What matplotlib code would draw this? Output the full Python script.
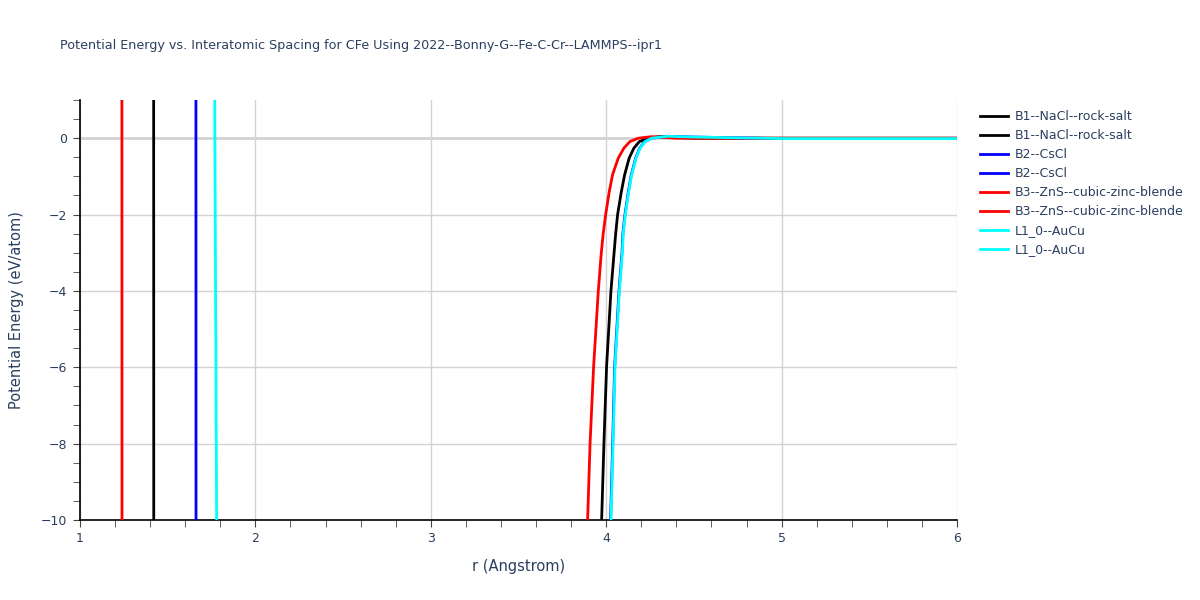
import matplotlib
matplotlib.use('Agg')
import matplotlib.pyplot as plt
from matplotlib.ticker import MultipleLocator

txt = '#2a3f5f'

# ---- data ----
# short wall branch (drops straight through the view window)
b1_r_left = [1.419, 1.421]
b1_e_left = [20.0, -20.0]
b2_r_left = [1.660, 1.662]
b2_e_left = [20.0, -20.0]
b3_r_left = [1.238, 1.240]
b3_e_left = [20.0, -20.0]
l10_r_left = [1.765, 1.768, 1.779, 1.781]
l10_e_left = [5.0, 1.0, -10.0, -12.0]

# main branch
e_levels = [-10.0, -8.0, -6.0, -4.0, -3.0, -2.5, -2.0, -1.41, -0.96, -0.52, -0.26, -0.09, 0.0]

b1_r = [3.974, 3.987, 4.002, 4.027, 4.045, 4.054, 4.065, 4.086, 4.105, 4.131, 4.158, 4.189, 4.24,
        4.30, 4.50, 5.0, 6.0]
b1_e = e_levels + [0.04, 0.0, 0.0, 0.0]
b2_r = [4.025, 4.037, 4.048, 4.073, 4.090, 4.095, 4.107, 4.126, 4.143, 4.168, 4.191, 4.219, 4.26,
        4.35, 4.50, 5.0, 6.0]
b2_e = e_levels + [0.05, 0.03, -0.01, -0.01]
b3_r = [3.894, 3.908, 3.928, 3.955, 3.972, 3.983, 3.997, 4.017, 4.036, 4.069, 4.101, 4.135, 4.183,
        4.26, 4.40, 5.0, 6.0]
b3_e = e_levels + [0.04, 0.0, 0.0, 0.0]
l10_r = [4.027, 4.039, 4.050, 4.075, 4.092, 4.097, 4.109, 4.128, 4.145, 4.170, 4.193, 4.221, 4.26,
         4.35, 4.50, 5.0, 6.0]
l10_e = e_levels + [0.05, 0.03, -0.01, -0.01]

series = [
    ('B1--NaCl--rock-salt', 'black', b1_r_left, b1_e_left, b1_r, b1_e),
    ('B2--CsCl', 'blue', b2_r_left, b2_e_left, b2_r, b2_e),
    ('B3--ZnS--cubic-zinc-blende', 'red', b3_r_left, b3_e_left, b3_r, b3_e),
    ('L1_0--AuCu', 'cyan', l10_r_left, l10_e_left, l10_r, l10_e),
]

fig = plt.figure(figsize=(12, 6), dpi=100)
ax = fig.add_axes([80 / 1200, 80 / 600, 877 / 1200, 420 / 600])

handles = []
labels = []
for name, col, rl, el, rr, er in series:
    h1, = ax.plot(rl, el, color=col, lw=2, zorder=3)
    h2, = ax.plot(rr, er, color=col, lw=2, zorder=3, solid_joinstyle='round')
    handles += [h1, h2]
    labels += [name, name]

ax.set_xlim(1, 6)
ax.set_ylim(-10, 1)
ax.axhline(0, color='#d3d3d3', lw=2, zorder=1)

ax.xaxis.set_major_locator(MultipleLocator(1))
ax.xaxis.set_minor_locator(MultipleLocator(0.2))
ax.yaxis.set_major_locator(MultipleLocator(2))
ax.yaxis.set_minor_locator(MultipleLocator(0.5))
ax.grid(True, which='major', color='#d3d3d3', lw=1, zorder=0)
ax.set_axisbelow(True)

for s in ['top', 'right']:
    ax.spines[s].set_visible(False)
for s in ['left', 'bottom']:
    ax.spines[s].set_color('black')
    ax.spines[s].set_linewidth(1.2)

ax.tick_params(which='major', direction='out', length=5, color='#444444',
               labelsize=9, labelcolor=txt, pad=4)
ax.tick_params(which='minor', direction='out', length=5, color='#444444')
ax.set_yticks([-10, -8, -6, -4, -2, 0])
ax.set_yticklabels(['\u221210', '\u22128', '\u22126', '\u22124', '\u22122', '0'])

ax.set_xlabel('r (Angstrom)', fontsize=10.5, color=txt, labelpad=10)
ax.set_ylabel('Potential Energy (eV/atom)', fontsize=10.5, color=txt, labelpad=12)

fig.text(60 / 1200, 1 - 45 / 600, 'Potential Energy vs. Interatomic Spacing for CFe Using 2022--Bonny-G--Fe-C-Cr--LAMMPS--ipr1',
         fontsize=9.2, color=txt, va='center', ha='left')

fig.legend(handles, labels, loc='upper left', bbox_to_anchor=(975 / 1200, 1 - 105 / 600),
           frameon=False, fontsize=9, labelcolor=txt, handlelength=2.2,
           handletextpad=0.55, labelspacing=0.48, borderaxespad=0)

plt.savefig('out.png', dpi=100)
